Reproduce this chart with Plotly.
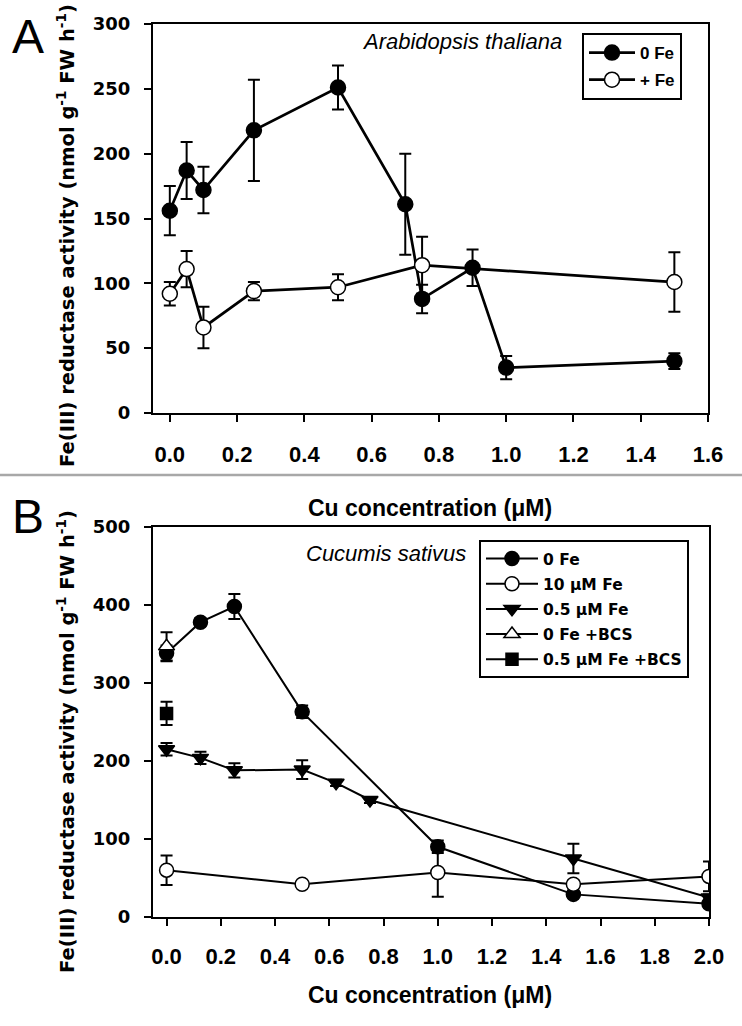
"""Fe(III) reductase activity vs Cu concentration, two stacked panels."""
import plotly.graph_objects as go

# ---- panel A: Arabidopsis thaliana ----
a_x_0fe = [0, 0.05, 0.1, 0.25, 0.5, 0.7, 0.75, 0.9, 1.0, 1.5]
a_y_0fe = [156, 187, 172, 218, 251, 161, 88, 112, 35, 40]
a_e_0fe = [19, 22, 18, 39, 17, 39, 11, 14, 9, 6]

a_x_fe = [0, 0.05, 0.1, 0.25, 0.5, 0.75, 1.5]
a_y_fe = [92, 111, 66, 94, 97, 114, 101]
a_e_fe = [9, 14, 16, 7, 10, 22, 23]

# ---- panel B: Cucumis sativus ----
b_x_0fe = [0, 0.125, 0.25, 0.5, 1.0, 1.5, 2.0]
b_y_0fe = [338, 378, 398, 263, 90, 29, 17]
b_e_0fe = [10, 5, 16, 8, 8, 4, 5]

b_x_10fe = [0, 0.5, 1.0, 1.5, 2.0]
b_y_10fe = [60, 42, 57, 42, 52]
b_e_10fe = [19, 3, 31, 5, 19]

b_x_05fe = [0, 0.125, 0.25, 0.5, 0.625, 0.75, 1.5, 2.0]
b_y_05fe = [215, 204, 188, 189, 172, 150, 75, 25]
b_e_05fe = [8, 8, 9, 12, 4, 4, 19, 4]

b_x_0fe_bcs = [0]
b_y_0fe_bcs = [347]
b_e_0fe_bcs = [18]

b_x_05fe_bcs = [0]
b_y_05fe_bcs = [261]
b_e_05fe_bcs = [15]

a_xticks = [0, 0.2, 0.4, 0.6, 0.8, 1.0, 1.2, 1.4, 1.6]
a_yticks = [0, 50, 100, 150, 200, 250, 300]
b_xticks = [0, 0.2, 0.4, 0.6, 0.8, 1.0, 1.2, 1.4, 1.6, 1.8, 2.0]
b_yticks = [0, 100, 200, 300, 400, 500]

W, H = 742, 1026
ARIAL = "Liberation Sans, Arial, sans-serif"
WIDE = "DejaVu Sans, Verdana, sans-serif"


def px(x):
    return x / W


def py(y):
    return 1 - y / H


def series(x, y, err, name, symbol, fill, xa, ya, legend, size, lw, cap):
    return go.Scatter(
        x=x, y=y, name=name, mode="lines+markers",
        xaxis=xa, yaxis=ya, legend=legend, legendgroup=name,
        line=dict(color="black", width=lw),
        marker=dict(symbol=symbol, size=size, color=fill,
                    line=dict(color="black", width=1.5)),
        error_y=dict(type="data", array=err, visible=True,
                     color="black", thickness=2, width=cap),
    )


fig = go.Figure()

fig.add_trace(series(a_x_0fe, a_y_0fe, a_e_0fe, "<b>0 Fe</b>", "circle",
                     "black", "x", "y", "legend", 15, 2.7, 6))
fig.add_trace(series(a_x_fe, a_y_fe, a_e_fe, "<b>+ Fe</b>", "circle",
                     "white", "x", "y", "legend", 15, 2.7, 6))

fig.add_trace(series(b_x_0fe, b_y_0fe, b_e_0fe, "<b>0 Fe</b>", "circle",
                     "black", "x2", "y2", "legend2", 14, 2, 6))
fig.add_trace(series(b_x_10fe, b_y_10fe, b_e_10fe, "<b>10 μM Fe</b>",
                     "circle", "white", "x2", "y2", "legend2", 14, 2, 6))
fig.add_trace(series(b_x_05fe, b_y_05fe, b_e_05fe, "<b>0.5 μM Fe</b>",
                     "triangle-down", "black", "x2", "y2", "legend2", 14, 2, 6))
fig.add_trace(series(b_x_0fe_bcs, b_y_0fe_bcs, b_e_0fe_bcs,
                     "<b>0 Fe +BCS</b>", "triangle-up", "white",
                     "x2", "y2", "legend2", 14, 2, 6))
fig.add_trace(series(b_x_05fe_bcs, b_y_05fe_bcs, b_e_05fe_bcs,
                     "<b>0.5 μM Fe +BCS</b>", "square", "black",
                     "x2", "y2", "legend2", 12, 2, 6))

axis_common = dict(
    showline=True, linecolor="black", linewidth=2, mirror=True,
    showgrid=False, zeroline=False, ticks="outside", ticklen=7,
    tickwidth=2, tickcolor="black", automargin=False,
)
xfont = dict(family=ARIAL, size=22, color="black", weight="bold")
yfont = dict(family=WIDE, size=18, color="black", weight="bold")

fig.update_layout(
    width=W, height=H,
    margin=dict(l=0, r=0, t=0, b=0, autoexpand=False),
    paper_bgcolor="white", plot_bgcolor="white",
    font=dict(family=ARIAL, color="black"),
    hovermode=False,
    xaxis=dict(domain=[px(153), px(708)], range=[-0.05, 1.6],
               tickvals=a_xticks, tickformat=".1f", anchor="y",
               tickfont=xfont, ticklabelstandoff=14, **axis_common),
    yaxis=dict(domain=[py(413), py(24)], range=[0, 300],
               tickvals=a_yticks, anchor="x", tickfont=yfont,
               ticklabelstandoff=10, **axis_common),
    xaxis2=dict(domain=[px(153), px(709)], range=[-0.05, 2.0],
                tickvals=b_xticks, tickformat=".1f", anchor="y2",
                tickfont=xfont, ticklabelstandoff=12, **axis_common),
    yaxis2=dict(domain=[py(917), py(527)], range=[0, 500],
                tickvals=b_yticks, anchor="x2", tickfont=yfont,
                ticklabelstandoff=10, **axis_common),
    legend=dict(x=px(582), y=py(33), xanchor="left", yanchor="top",
                bordercolor="black", borderwidth=2, bgcolor="white",
                font=dict(family=ARIAL, size=17, color="black"),
                itemwidth=46, tracegroupgap=2),
    legend2=dict(x=px(479), y=py(540), xanchor="left", yanchor="top",
                 bordercolor="black", borderwidth=2, bgcolor="white",
                 font=dict(family=WIDE, size=15.5, color="black"),
                 itemwidth=52, tracegroupgap=2),
    showlegend=True,
)

ytitle = ("<b>Fe(III) reductase activity (nmol g<sup>-1</sup> "
          "FW h<sup>-1</sup>)</b>")
xtitle = "<b>Cu concentration (μM)</b>"

notes = [
    dict(x=28, y=36, text="A", size=48, family=ARIAL),
    dict(x=28, y=516, text="B", size=48, family=ARIAL),
    dict(x=430, y=508, text=xtitle, size=23, family=ARIAL),
    dict(x=430, y=995, text=xtitle, size=23, family=ARIAL),
    dict(x=462, y=41, text="<i>Arabidopsis thaliana</i>", size=22,
         family=ARIAL),
    dict(x=386, y=553, text="<i>Cucumis sativus</i>", size=22,
         family=ARIAL),
]
for n in notes:
    fig.add_annotation(x=px(n["x"]), y=py(n["y"]), xref="paper",
                       yref="paper", xanchor="center", yanchor="middle",
                       text=n["text"], showarrow=False,
                       font=dict(family=n["family"], size=n["size"],
                                 color="black"))

for yc in (236, 742):
    fig.add_annotation(x=px(66), y=py(yc), xref="paper", yref="paper",
                       xanchor="center", yanchor="middle",
                       text=ytitle, textangle=-90, showarrow=False,
                       font=dict(family=WIDE, size=19.5, color="black"))

fig.add_shape(type="line", xref="paper", yref="paper",
              x0=0, x1=1, y0=py(475), y1=py(475),
              line=dict(color="#a8a8a8", width=2.5))

# the page body has a default 8px margin; drop it so the figure sits at 0,0
fig.write_html("out.html", config={"displayModeBar": False},
               post_script="document.body.style.margin='0';")
